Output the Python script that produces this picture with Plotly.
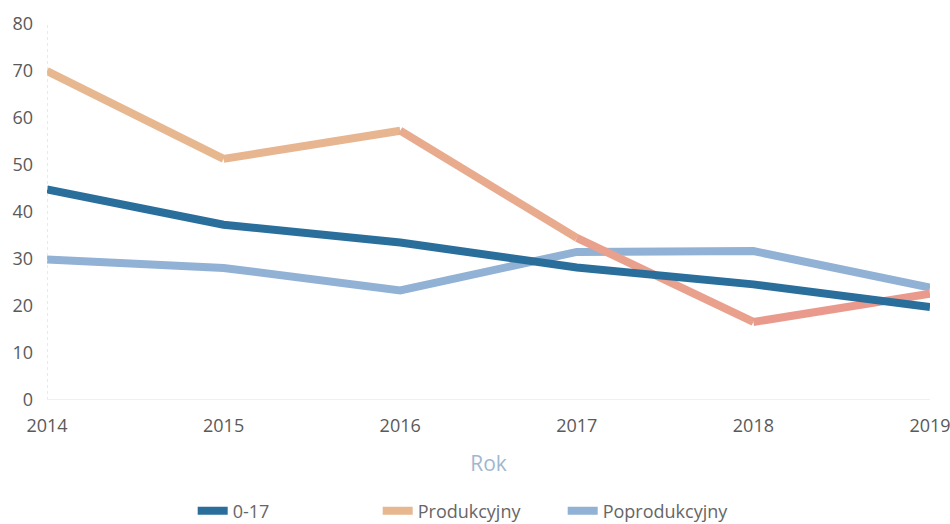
import plotly.graph_objects as go

years = [2014, 2015, 2016, 2017, 2018, 2019]
age_0_17 = [44.8, 37.3, 33.5, 28.2, 24.6, 19.8]
produkcyjny = [70.0, 51.3, 57.3, 34.5, 16.6, 22.6]
poprodukcyjny = [29.9, 28.1, 23.3, 31.5, 31.7, 23.9]
series_names = ["0-17", "Produkcyjny", "Poprodukcyjny"]
tick_vals = [0, 10, 20, 30, 40, 50, 60, 70, 80]

# gradient colours for the Produkcyjny line, per segment
prod_colors = ["#e7b890", "#e7b58f", "#e8ab8e", "#e9a08d", "#ea9a8c"]

fig = go.Figure()

fig.add_trace(go.Scatter(
    x=years, y=poprodukcyjny, mode="lines", name=series_names[2],
    line=dict(color="#91b1d5", width=8), legendrank=3))

for i in range(len(years) - 1):
    fig.add_trace(go.Scatter(
        x=years[i:i + 2], y=produkcyjny[i:i + 2], mode="lines",
        name=series_names[1], legendgroup="prod", showlegend=(i == 0),
        line=dict(color=prod_colors[i], width=8), legendrank=2))

fig.add_trace(go.Scatter(
    x=years, y=age_0_17, mode="lines", name=series_names[0],
    line=dict(color="#2a6e9c", width=8), legendrank=1))

fig.update_layout(
    width=950, height=524,
    margin=dict(l=47, r=20, t=24, b=124, autoexpand=False),
    paper_bgcolor="white", plot_bgcolor="white",
    font=dict(family="Open Sans", color="#555555", size=18),
    showlegend=True,
    legend=dict(orientation="h", x=0.165, xanchor="left",
                yref="container", y=0.06, yanchor="top",
                entrywidth=140, entrywidthmode="pixels",
                font=dict(size=18, color="#666666"), itemwidth=30,
                traceorder="normal"),
    xaxis=dict(
        range=[2014, 2019], tickvals=years, ticktext=[str(y) for y in years],
        showgrid=False, zeroline=False, showline=False, ticks="",
        ticklabelstandoff=13, automargin=False, ticklabeloverflow="allow",
        title=dict(text="Rok", font=dict(size=21, color="#9fb8cf"), standoff=20),
        tickfont=dict(size=18, color="#5a5a5a")),
    yaxis=dict(
        range=[0, 80], tickvals=tick_vals, showgrid=False, zeroline=False,
        showline=False, ticks="", ticklabelstandoff=13, automargin=False,
        ticklabeloverflow="allow",
        tickfont=dict(size=18, color="#5a5a5a")),
)

# faint axis lines
fig.add_shape(type="line", xref="x", yref="paper", x0=2014, x1=2014, y0=0, y1=1,
              line=dict(color="#c5d6ea", width=1, dash="dot"))
fig.add_shape(type="line", xref="paper", yref="y", x0=0, x1=1, y0=0, y1=0,
              line=dict(color="#f0f0f0", width=2))

fig.write_html("out.html", config={"displayModeBar": False},
               post_script="document.body.style.margin='0';document.body.style.overflow='hidden';")
